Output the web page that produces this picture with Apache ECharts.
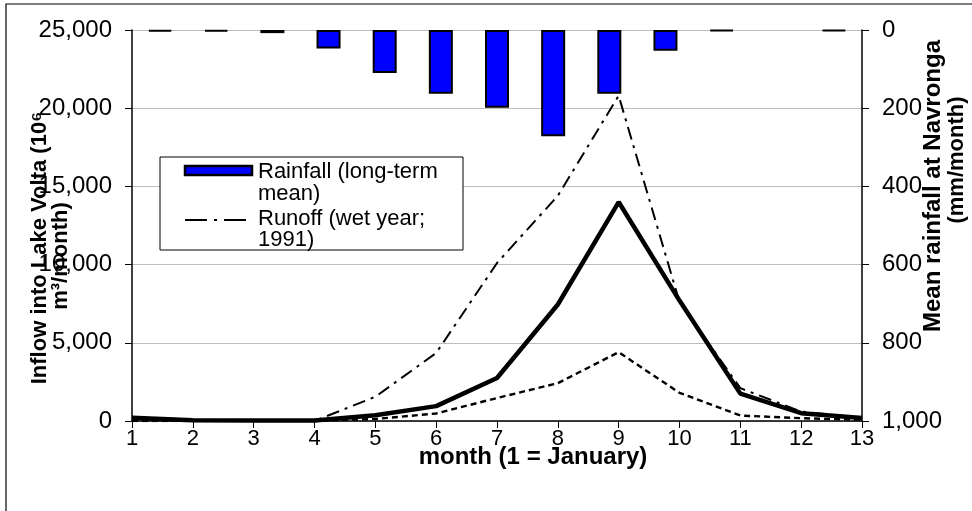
<!DOCTYPE html>
<html>
<head>
<meta charset="utf-8">
<script src="https://cdn.jsdelivr.net/npm/echarts@6/dist/echarts.min.js"></script>
<style>
  html, body { margin: 0; padding: 0; background: #fff; }
  #chart { width: 972px; height: 511px; }
</style>
</head>
<body>
<div id="chart"></div>
<script>
// ---- data ----
const months = [1, 2, 3, 4, 5, 6, 7, 8, 9, 10, 11, 12, 13];
// long-term mean rainfall at Navronga (mm/month), right axis (inverted)
const rainfall = [4, 4, 8, 47, 110, 163, 199, 272, 163, 53, 3, 0, 3];
// inflow into Lake Volta (10^6 m3/month)
const runoffMean = [200, 50, 30, 30, 370, 950, 2750, 7450, 14000, 7700, 1750, 500, 190];
const runoffWet = [150, 0, 0, 0, 1550, 4350, 10100, 14400, 20800, 7600, 2100, 600, 200];
const runoffDry = [0, 0, 0, 0, 130, 480, 1470, 2420, 4400, 1800, 350, 180, 70];
const leftTicks = [0, 5000, 10000, 15000, 20000, 25000];
const rightTicks = [0, 200, 400, 600, 800, 1000];

const FONT = "'Liberation Sans', Arial, sans-serif";
const fmt = v => Number(v).toLocaleString('en-US');
const pairs = arr => months.map((m, i) => [m, arr[i]]);

const chart = echarts.init(document.getElementById('chart'), null, { renderer: 'canvas' });

const option = {
  animation: false,
  backgroundColor: '#fff',
  grid: { left: 132, right: 110, top: 30, bottom: 90, containLabel: false },
  xAxis: [
    {
      type: 'value', min: 1, max: 13, interval: 1,
      axisLine: { show: true, onZero: false, lineStyle: { color: '#000', width: 1.5 } },
      axisTick: { show: true, inside: false, length: 7, lineStyle: { color: '#000', width: 1 } },
      axisLabel: { fontFamily: FONT, fontSize: 22, color: '#000', margin: 7 },
      splitLine: { show: false }
    },
    {
      type: 'category', data: months.map(String), boundaryGap: true, show: false
    }
  ],
  yAxis: [
    {
      type: 'value', min: leftTicks[0], max: leftTicks[leftTicks.length - 1], interval: 5000,
      position: 'left',
      axisLine: { show: true, lineStyle: { color: '#000', width: 1.5 } },
      axisTick: { show: true, inside: false, length: 7, lineStyle: { color: '#000', width: 1 } },
      axisLabel: { fontFamily: FONT, fontSize: 24, color: '#000', margin: 20, formatter: fmt },
      splitLine: { show: true, lineStyle: { color: '#bdbdbd', width: 1 } }
    },
    {
      type: 'value', min: rightTicks[0], max: rightTicks[rightTicks.length - 1], interval: 200,
      position: 'right', inverse: true,
      axisLine: { show: true, lineStyle: { color: '#000', width: 1.5 } },
      axisTick: { show: true, inside: false, length: 7, lineStyle: { color: '#000', width: 1 } },
      axisLabel: { fontFamily: FONT, fontSize: 24, color: '#000', margin: 20, formatter: fmt },
      splitLine: { show: false }
    }
  ],
  series: [
    {
      name: 'Rainfall (long-term mean)', type: 'bar',
      xAxisIndex: 1, yAxisIndex: 1,
      data: rainfall.map(v => (v === 0 ? '-' : v)),
      barWidth: 24,
      itemStyle: { color: '#0000ff', borderColor: '#000', borderWidth: 2 },
      z: 1
    },
    {
      name: 'Runoff (dry year)', type: 'line', xAxisIndex: 0, yAxisIndex: 0,
      data: pairs(runoffDry), symbol: 'none',
      lineStyle: { color: '#000', width: 2.4, type: [6, 4] }, z: 3
    },
    {
      name: 'Runoff (wet year; 1991)', type: 'line', xAxisIndex: 0, yAxisIndex: 0,
      data: pairs(runoffWet), symbol: 'none',
      lineStyle: { color: '#000', width: 2, type: [13, 6, 3, 6] }, z: 3
    },
    {
      name: 'Runoff (mean)', type: 'line', xAxisIndex: 0, yAxisIndex: 0,
      data: pairs(runoffMean), symbol: 'none',
      lineStyle: { color: '#000', width: 4.5 }, z: 4
    }
  ],
  graphic: [
    // outer frame
    { type: 'rect', silent: true, z: 0,
      shape: { x: 6, y: 4, width: 990, height: 530 },
      style: { fill: 'none', stroke: '#000', lineWidth: 1.2 } },
    // legend box
    { type: 'rect', z: 20,
      shape: { x: 160, y: 157, width: 303, height: 93 },
      style: { fill: '#fff', stroke: '#000', lineWidth: 1 } },
    { type: 'rect', z: 21,
      shape: { x: 185, y: 166, width: 67, height: 9 },
      style: { fill: '#0000ff', stroke: '#000', lineWidth: 2.5 } },
    { type: 'line', z: 21,
      shape: { x1: 185, y1: 220, x2: 250, y2: 220 },
      style: { stroke: '#000', lineWidth: 2.2, lineDash: [22, 7, 3, 7] } },
    { type: 'text', z: 21, x: 258, y: 172,
      style: { text: 'Rainfall (long-term', font: '22px ' + FONT, fill: '#000', verticalAlign: 'middle' } },
    { type: 'text', z: 21, x: 258, y: 194,
      style: { text: 'mean)', font: '22px ' + FONT, fill: '#000', verticalAlign: 'middle' } },
    { type: 'text', z: 21, x: 258, y: 219,
      style: { text: 'Runoff (wet year;', font: '22px ' + FONT, fill: '#000', verticalAlign: 'middle' } },
    { type: 'text', z: 21, x: 258, y: 240,
      style: { text: '1991)', font: '22px ' + FONT, fill: '#000', verticalAlign: 'middle' } },
    // left axis title
    { type: 'text', z: 22, x: 40, y: 248, rotation: Math.PI / 2,
      style: { text: 'Inflow into Lake Volta (10\u2076', font: 'bold 22px ' + FONT, fill: '#000', align: 'center', verticalAlign: 'middle' } },
    { type: 'text', z: 22, x: 61, y: 256, rotation: Math.PI / 2,
      style: { text: 'm\u00b3/month)', font: 'bold 22px ' + FONT, fill: '#000', align: 'center', verticalAlign: 'middle' } },
    // right axis title
    { type: 'text', z: 22, x: 933, y: 186, rotation: Math.PI / 2,
      style: { text: 'Mean rainfall at Navronga', font: 'bold 24px ' + FONT, fill: '#000', align: 'center', verticalAlign: 'middle' } },
    { type: 'text', z: 22, x: 957, y: 160, rotation: Math.PI / 2,
      style: { text: '(mm/month)', font: 'bold 22px ' + FONT, fill: '#000', align: 'center', verticalAlign: 'middle' } },
    // x axis title
    { type: 'text', z: 22, x: 533, y: 457,
      style: { text: 'month (1 = January)', font: 'bold 24px ' + FONT, fill: '#000', align: 'center', verticalAlign: 'middle' } }
  ]
};

chart.setOption(option);
</script>
</body>
</html>
